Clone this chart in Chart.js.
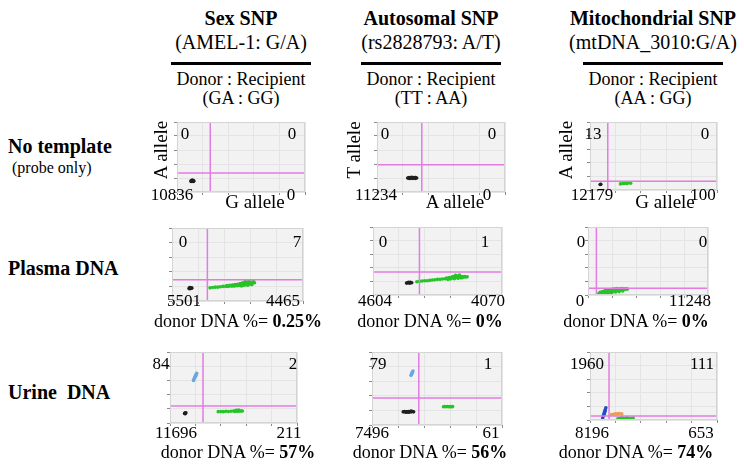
<!DOCTYPE html>
<html><head><meta charset="utf-8">
<script src="https://cdn.jsdelivr.net/npm/chart.js@4.4.0/dist/chart.umd.min.js"></script>
<style>
html,body{margin:0;padding:0;background:#fff;}
body{width:744px;height:471px;position:relative;overflow:hidden;color:#000;}
.t,.l,.r{font-family:"Liberation Serif","Times New Roman",Times,"DejaVu Serif",serif;}
.t{position:absolute;white-space:pre;transform:translate(-50%,-50%);line-height:1;}
.l{position:absolute;white-space:pre;transform:translate(0,-50%);line-height:1;}
.r{position:absolute;white-space:pre;transform:translate(-50%,-50%) rotate(-90deg);line-height:1;}
.rule{position:absolute;height:3px;background:#000;}
canvas{position:absolute;}
</style></head><body>
<script>
// ---------- DATA ----------
const columnTitles = ["Sex SNP", "Autosomal SNP", "Mitochondrial SNP"];
const snpLabels = ["(AMEL-1: G/A)", "(rs2828793: A/T)", "(mtDNA_3010:G/A)"];
const genotypeHeader = "Donor : Recipient";
const genotypes = ["(GA : GG)", "(TT : AA)", "(AA : GG)"];
const rowLabels = ["No template", "Plasma DNA", "Urine  DNA"];
const rowSubLabel = "(probe only)";
const yAlleles = ["A allele", "T allele", "A allele"];
const xAlleles = ["G allele", "A allele", "G allele"];
// droplet counts per plot: [upper-left, upper-right, lower-left, lower-right]
const countsNoTemplate = [[0, 0, 10836, 0], [0, 0, 11234, 0], [13, 0, 12179, 100]];
const countsPlasma = [[0, 7, 5501, 4465], [0, 1, 4604, 4070], [0, 0, 0, 11248]];
const countsUrine = [[84, 2, 11696, 211], [79, 1, 7496, 61], [1960, 111, 8196, 653]];
const donorPlasma = ["0.25%", "0%", "0%"];
const donorUrine = ["57%", "56%", "74%"];
// thresholds [x-amplitude, y-amplitude] (relative units 0-100)
const thrNoTemplate = [[26, 27], [35, 39], [14, 13]];
const thrPlasma = [[27, 29], [36, 34], [7, 10]];
const thrUrine = [[26, 24], [36, 37], [15, 6]];
// droplet clusters, [x, y] relative amplitudes
const ntSexBlack = [[11,15],[12,16],[13,16],[12,17],[11.5,16.5],[13,15.5],[12.5,15],[11,16]];
const ntAutoBlack = [[24,20],[25,20.5],[26,20],[27,20],[28,20.5],[29,20],[30,19.5],[31,20],[26,19.5],[28,19.5],[25,19.5],[29.5,20.5],[27,21],[30,20.5]];
const ntMitoGreen = [[24,9],[26,9.5],[28,10],[30,10.5],[32,10],[27,10],[29,9.5]];
const ntMitoBlack = [[8,8],[8.5,8.5]];
const plSexBlack = [[13,17],[14,18],[15,18],[14,17],[13.5,18.5],[15,17.5]];
const plSexGreen = [[29,18],[31,18.5],[33,19],[35,19],[37,19.5],[39,20],[41,20],[42,21],[43,20],[44,21.5],[45,20.5],[46,22],[47,21],[48,22.5],[49,21.5],[50,23],[50,21],[51,22],[52,24],[52,21.5],[53,23],[54,22],[54,25],[55,23.5],[56,22.5],[56,25.5],[57,24],[58,23],[58,26],[59,24.5],[60,25],[61,24],[62,25.5],[63,25],[48,20.5],[46,20.5],[55,21.5],[57,22.5],[60,23.5],[53,20.5],[58,21.5],[61,22.5],[62,27],[59,27],[56,27]];
const plAutoBlack = [[26,17.5],[27,18],[28,18],[29,18.5],[30,18],[28.5,17.5],[27.5,18.5]];
const plAutoGreen = [[34,19.5],[36,20],[38,20.5],[40,21],[42,21],[44,21.5],[46,22],[48,22.5],[50,23],[52,23],[54,23.5],[56,24],[57,25],[58,24],[59,25.5],[60,24.5],[61,26],[62,25],[63,26.5],[64,25.5],[65,27],[66,26],[67,27.5],[68,26.5],[69,27],[70,26.5],[71,27],[72,26.5],[73,26.8],[62,27],[64,27.5],[66,28],[60,23.5],[58,23],[68,25.5],[63,24],[66,24.5],[69,25.5],[64,29],[67,29.5]];
const plMitoGreen = [[9,2],[10,4],[11,3],[12,5],[13,3.5],[14,6],[15,4.5],[16,7],[17,5],[18,8],[19,6],[20,8.5],[21,6.5],[22,9],[23,7],[24,9.5],[25,7.5],[26,9],[27,8],[28,9.5],[29,8.5],[30,9],[31,8.5],[32,9],[33,8.8],[15,7.5],[18,5.5],[20,5],[22,6],[24,6.5],[26,6.8],[28,7.5],[12,2.5],[14,3],[17,3],[20,3.5],[23,4.5],[26,5],[29,6],[16,1.5],[19,2]];
const urSexBlack = [[12,14],[12.5,14.5],[11.5,13.5],[12,13]];
const urSexGreen = [[38,16],[40,16.3],[42,16],[44,16.5],[46,16.2],[48,16.5],[50,16.8],[51,16.4],[52,17],[53,16.6],[54,17],[55,16.8],[56,17],[57,16.8],[52,18],[54,18.2]];
const urSexBlue = [[18.5,60],[19,62],[19.5,64],[20,66],[20.5,68],[21,70],[19.8,65],[20.3,67]];
const urAutoBlack = [[24,18],[25,18.5],[26,18],[27,18],[28,18.5],[29,18],[30,18],[31,18.5],[32,18],[26,17.5],[28,17.5],[30,19]];
const urAutoGreen = [[55,25],[56,25.3],[57,25],[58,25.3],[59,25],[60,25.2],[61,25],[62,25.2]];
const urAutoBlue = [[30,68],[30.5,70],[31,72],[31.5,74],[30.8,71]];
const urMitoBlue = [[10,3],[10.5,6],[11,9],[11.5,12],[12,15],[12.5,18],[10.8,7],[11.3,10],[11.8,13]];
const urMitoOrange = [[17,8],[18.5,8.5],[20,9],[21.5,9],[23,9.5],[25,9]];
const urMitoGreen = [[22,2],[24,2.5],[26,3],[28,2.5],[30,3],[32,2.5],[34,2.8],[25,3.2],[29,3.3]];

// ---------- LAYOUT ----------
const colCenters = [241, 431, 653];
const panels = [
  [[177,122,128,70],[377,122,128,70],[590,122,127,68]],
  [[172,228,131,73],[373,227,129,68],[588,227,120,68]],
  [[170,352,127,71],[372,352,130,73],[590,352,127,68]]
];
const BLACK = '#1e1e1e', GREEN = '#27c427', LBLUE = '#6aa6e0', DBLUE = '#1d4fc4', ORANGE = '#f09a5a';
const plotClusters = [
  [[[ntSexBlack,BLACK]], [[ntAutoBlack,BLACK]], [[ntMitoBlack,BLACK],[ntMitoGreen,GREEN]]],
  [[[plSexBlack,BLACK],[plSexGreen,GREEN]], [[plAutoBlack,BLACK],[plAutoGreen,GREEN]], [[plMitoGreen,GREEN]]],
  [[[urSexBlack,BLACK],[urSexGreen,GREEN],[urSexBlue,LBLUE]], [[urAutoBlack,BLACK],[urAutoGreen,GREEN],[urAutoBlue,LBLUE]], [[urMitoGreen,GREEN],[urMitoOrange,ORANGE],[urMitoBlue,DBLUE]]]
];
const plotThresholds = [thrNoTemplate, thrPlasma, thrUrine];
const plotCounts = [countsNoTemplate, countsPlasma, countsUrine];
const countPos = [
  [[[185,133],[292,133],[172,194],[291,194]], [[385,133],[492,133],[376,194],[487,194]], [[593,133],[705,133],[592,194],[703,194]]],
  [[[183,241],[297,241],[184,300],[283,300]], [[383,241],[485,241],[375,300],[488,300]], [[581,241],[703,241],[580,300],[690,300]]],
  [[[161,363],[293,363],[176,432],[289,432]], [[378,363],[488,363],[372,432],[491,432]], [[587,363],[702,363],[592,432],[701,432]]]
];

function addText(cls, text, x, y, size, bold, extra) {
  const d = document.createElement('div');
  d.className = cls;
  d.textContent = text;
  d.style.left = x + 'px';
  d.style.top = y + 'px';
  d.style.fontSize = size + 'px';
  if (bold) d.style.fontWeight = 'bold';
  if (extra) Object.assign(d.style, extra);
  document.body.appendChild(d);
  return d;
}

columnTitles.forEach((t, i) => {
  const cx = colCenters[i];
  addText('t', t, cx, 18, 20, true);
  addText('t', snpLabels[i], cx, 42, 20, false);
  const r = document.createElement('div');
  r.className = 'rule';
  r.style.left = (cx - 70) + 'px'; r.style.width = '140px'; r.style.top = '62px';
  document.body.appendChild(r);
  addText('t', genotypeHeader, cx, 79, 18, false);
  addText('t', genotypes[i], cx, 98, 18, false);
});
addText('l', rowLabels[0], 8, 146, 20, true);
addText('l', rowSubLabel, 12, 168, 16, false);
addText('l', rowLabels[1], 8, 268, 20, true);
addText('l', rowLabels[2], 8, 392, 20, true);

const panelBg = {
  id: 'panelBg',
  beforeDraw(chart) {
    const {ctx, chartArea: a} = chart;
    ctx.save();
    ctx.fillStyle = '#f2f2f2';
    ctx.fillRect(a.left, a.top, a.right - a.left, a.bottom - a.top);
    ctx.restore();
  },
  afterDraw(chart) {
    const {ctx, chartArea: a} = chart;
    ctx.save();
    ctx.strokeStyle = '#d4d4d4';
    ctx.lineWidth = 1;
    ctx.strokeRect(a.left + 0.5, a.top + 0.5, a.right - a.left - 1, a.bottom - a.top - 1);
    ctx.restore();
  }
};

for (let r = 0; r < 3; r++) {
  for (let c = 0; c < 3; c++) {
    const [L, T, W, H] = panels[r][c];
    const cv = document.createElement('canvas');
    const cw = W + 12, ch = H + 12;
    cv.width = cw; cv.height = ch;
    cv.style.left = (L - 8) + 'px';
    cv.style.top = (T - 4) + 'px';
    cv.style.width = cw + 'px';
    cv.style.height = ch + 'px';
    document.body.appendChild(cv);
    const thr = plotThresholds[r][c];
    const datasets = [];
    plotClusters[r][c].forEach(([pts, col]) => {
      datasets.push({
        type: 'scatter',
        data: pts.map(p => ({x: p[0], y: p[1]})),
        backgroundColor: col, borderWidth: 0, pointRadius: 1.8, order: 2
      });
    });
    const lineStyle = {type: 'line', borderColor: '#e27be2', borderWidth: 1.5, pointRadius: 0, fill: false, order: 1};
    datasets.push(Object.assign({data: [{x: thr[0], y: 0}, {x: thr[0], y: 100}]}, lineStyle));
    datasets.push(Object.assign({data: [{x: 0, y: thr[1]}, {x: 100, y: thr[1]}]}, lineStyle));
    new Chart(cv, {
      type: 'scatter',
      data: {datasets},
      plugins: [panelBg],
      options: {
        responsive: false, animation: false, devicePixelRatio: 1,
        layout: {padding: {top: 4, right: 4, left: 0, bottom: 0}},
        plugins: {legend: {display: false}, tooltip: {enabled: false}, title: {display: false}},
        scales: {
          x: {type: 'linear', min: 0, max: 100,
              ticks: {display: false, stepSize: 20},
              grid: {color: '#e4e4e4', tickColor: '#8a8a8a', tickLength: 3},
              border: {display: false},
              afterFit(s) { s.height = 8; }},
          y: {type: 'linear', min: 0, max: 100,
              ticks: {display: false, stepSize: 20},
              grid: {color: '#e4e4e4', tickColor: '#8a8a8a', tickLength: 3},
              border: {display: false},
              afterFit(s) { s.width = 8; }}
        }
      }
    });
    const cnt = plotCounts[r][c];
    const pos = countPos[r][c];
    for (let k = 0; k < 4; k++) addText('t', String(cnt[k]), pos[k][0], pos[k][1], 17, false);
  }
}
const xLabPos = [[255,201],[455,201],[665,201]];
const yLabPos = [[160,150],[353,150],[565,150]];
for (let c = 0; c < 3; c++) {
  addText('t', xAlleles[c], xLabPos[c][0], xLabPos[c][1], 19, false);
  addText('r', yAlleles[c], yLabPos[c][0], yLabPos[c][1], 19, false);
}
const donorX = [238, 430, 636];
for (let c = 0; c < 3; c++) {
  const d1 = addText('t', '', donorX[c], 321, 18, false);
  d1.innerHTML = 'donor DNA %= <b>' + donorPlasma[c] + '</b>';
  const d2 = addText('t', '', donorX[c], 452, 18, false);
  d2.innerHTML = 'donor DNA %= <b>' + donorUrine[c] + '</b>';
}
</script>
</body></html>
